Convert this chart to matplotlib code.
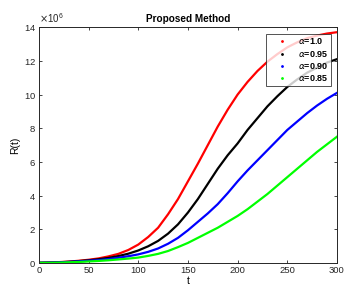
import matplotlib
matplotlib.use('Agg')
import matplotlib.pyplot as plt
from matplotlib.lines import Line2D

plt.rcParams['font.family'] = ['Liberation Sans', 'DejaVu Sans']

# values, R(t) in units of 1e6
t = list(range(0, 301, 10))
r_100 = [0.02, 0.04, 0.06, 0.09, 0.14, 0.20, 0.28, 0.40, 0.55, 0.78, 1.10,
         1.55, 2.10, 2.90, 3.80, 4.85, 5.90, 7.00, 8.10, 9.10, 10.0,
         10.75, 11.4, 11.95, 12.4, 12.8, 13.1, 13.35, 13.5, 13.62, 13.7]
r_095 = [0.02, 0.03, 0.05, 0.08, 0.12, 0.17, 0.23, 0.31, 0.42, 0.56, 0.75,
         1.00, 1.32, 1.75, 2.30, 3.00, 3.80, 4.70, 5.60, 6.40, 7.10,
         7.90, 8.60, 9.30, 9.90, 10.45, 10.9, 11.3, 11.6, 11.9, 12.1]
r_090 = [0.02, 0.03, 0.04, 0.07, 0.10, 0.14, 0.18, 0.24, 0.32, 0.41, 0.52,
         0.67, 0.87, 1.15, 1.50, 1.95, 2.45, 2.95, 3.50, 4.15, 4.85,
         5.50, 6.10, 6.70, 7.30, 7.90, 8.40, 8.90, 9.35, 9.75, 10.1]
r_085 = [0.02, 0.02, 0.03, 0.05, 0.07, 0.10, 0.13, 0.17, 0.22, 0.27, 0.33,
         0.43, 0.55, 0.72, 0.95, 1.20, 1.50, 1.80, 2.10, 2.45, 2.80,
         3.20, 3.65, 4.10, 4.60, 5.10, 5.60, 6.10, 6.60, 7.05, 7.50]

labels = ['1.0', '0.95', '0.90', '0.85']
colors = ['#ff0000', '#000000', '#0000ff', '#00ff00']
series = [r_100, r_095, r_090, r_085]

fig = plt.figure(figsize=(3.6, 2.95), dpi=100)
ax = fig.add_axes([0.108, 0.108, 0.828, 0.8])

for r, c in zip(series, colors):
    ax.plot(t, [v * 1e6 for v in r], color=c, linewidth=1.6)

ax.set_xlim(0, 300)
ax.set_ylim(0, 14e6)
ax.set_xticks(range(0, 301, 50))
ax.set_yticks([i * 1e6 for i in range(0, 15, 2)])
ax.ticklabel_format(axis='y', style='sci', scilimits=(6, 6), useMathText=True)
ax.yaxis.get_offset_text().set_fontsize(7)
ax.tick_params(labelsize=6.8, direction='in', length=2.5, width=0.6,
               top=True, right=True, pad=2, colors='#262626')
for s in ax.spines.values():
    s.set_color('#262626')
    s.set_linewidth(0.7)

ax.set_xlabel('t', fontsize=7.5, labelpad=1)
ax.set_ylabel('R(t)', fontsize=7.5, labelpad=3)
ax.set_title('Proposed Method', fontsize=7.2, fontweight='bold', pad=4)

handles = [Line2D([], [], color=c, marker='.', markersize=2, linestyle='none') for c in colors]
leg = ax.legend(handles, [r'$\alpha$=' + l for l in labels], loc='upper right',
                bbox_to_anchor=(0.98, 0.972), fontsize=6.5, frameon=True, fancybox=False,
                edgecolor='#262626', handlelength=2.8, handletextpad=0.4,
                labelspacing=0.25, borderpad=0.3, borderaxespad=0.0)
leg.get_frame().set_linewidth(0.7)
for txt in leg.get_texts():
    txt.set_fontweight('bold')

fig.savefig('out.png', dpi=100)
